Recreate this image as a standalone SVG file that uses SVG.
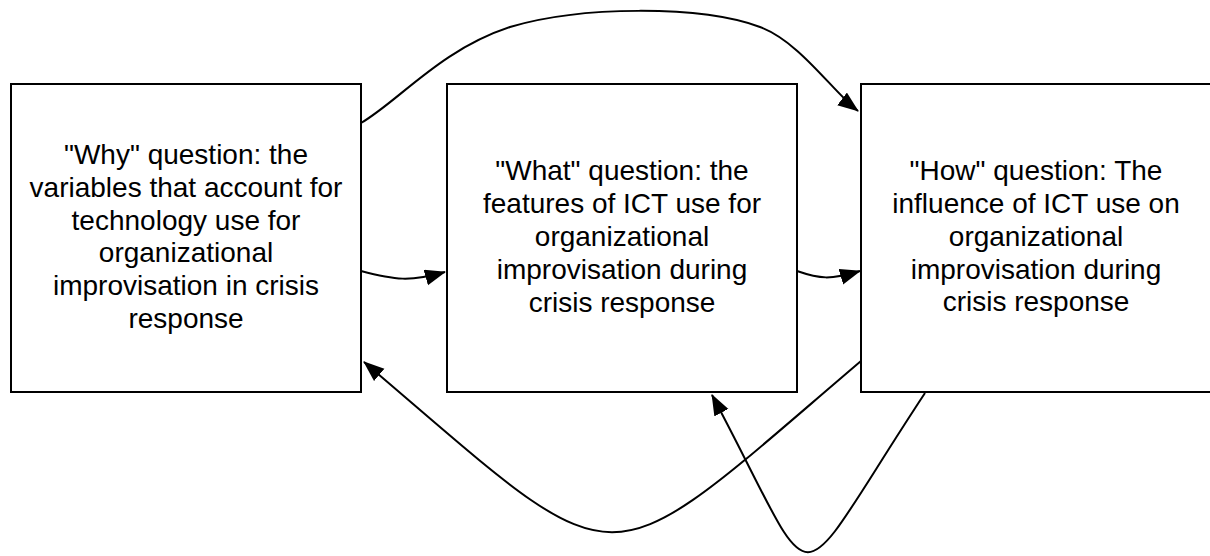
<svg xmlns="http://www.w3.org/2000/svg" width="1210" height="556" viewBox="0 0 1210 556">
<style>
.box{fill:#fff;stroke:#000;stroke-width:2}
.lbl{font-family:"Liberation Sans",Arial,Helvetica,sans-serif;font-size:28px;fill:#000;text-anchor:middle}
.edge{fill:none;stroke:#000;stroke-width:2;marker-end:url(#arr)}
</style>
<defs>
<marker id="arr" markerUnits="userSpaceOnUse" markerWidth="22" markerHeight="18" refX="20" refY="8" orient="auto" viewBox="0 0 22 18">
<path d="M0,0 L21,8 L0,16 z" fill="#000"/>
</marker>
</defs>
<rect width="1210" height="556" fill="#fff"/>
<g id="node-why">
<rect class="box" x="11" y="84" width="350" height="308"/>
<text class="lbl"><tspan x="186" y="164">"Why" question: the</tspan><tspan x="186" y="197">variables that account for</tspan><tspan x="186" y="230">technology use for</tspan><tspan x="186" y="262">organizational</tspan><tspan x="186" y="295">improvisation in crisis</tspan><tspan x="186" y="328">response</tspan></text>
</g>
<g id="node-what">
<rect class="box" x="447" y="84" width="350" height="308"/>
<text class="lbl"><tspan x="622" y="180">"What" question: the</tspan><tspan x="622" y="213">features of ICT use for</tspan><tspan x="622" y="246">organizational</tspan><tspan x="622" y="279">improvisation during</tspan><tspan x="622" y="312">crisis response</tspan></text>
</g>
<g id="node-how">
<rect class="box" x="861" y="84" width="350" height="308"/>
<text class="lbl"><tspan x="1036" y="180">"How" question: The</tspan><tspan x="1036" y="213">influence of ICT use on</tspan><tspan x="1036" y="246">organizational</tspan><tspan x="1036" y="279">improvisation during</tspan><tspan x="1036" y="311">crisis response</tspan></text>
</g>
<g id="connectors">
<path class="edge" d="M361,123 C400,100 440,50 510,27 C580,6 700,5 760,27 C800,42 833,92 858,111"/>
<path class="edge" d="M361,271 C395,280 410,282 445,272"/>
<path class="edge" d="M797,271 C820,279 830,280 860,271"/>
<path class="edge" d="M861,361 C593,589 631,589 364,362"/>
<path class="edge" d="M925,393 C785,605 824,605 712,395"/>
</g>
</svg>
